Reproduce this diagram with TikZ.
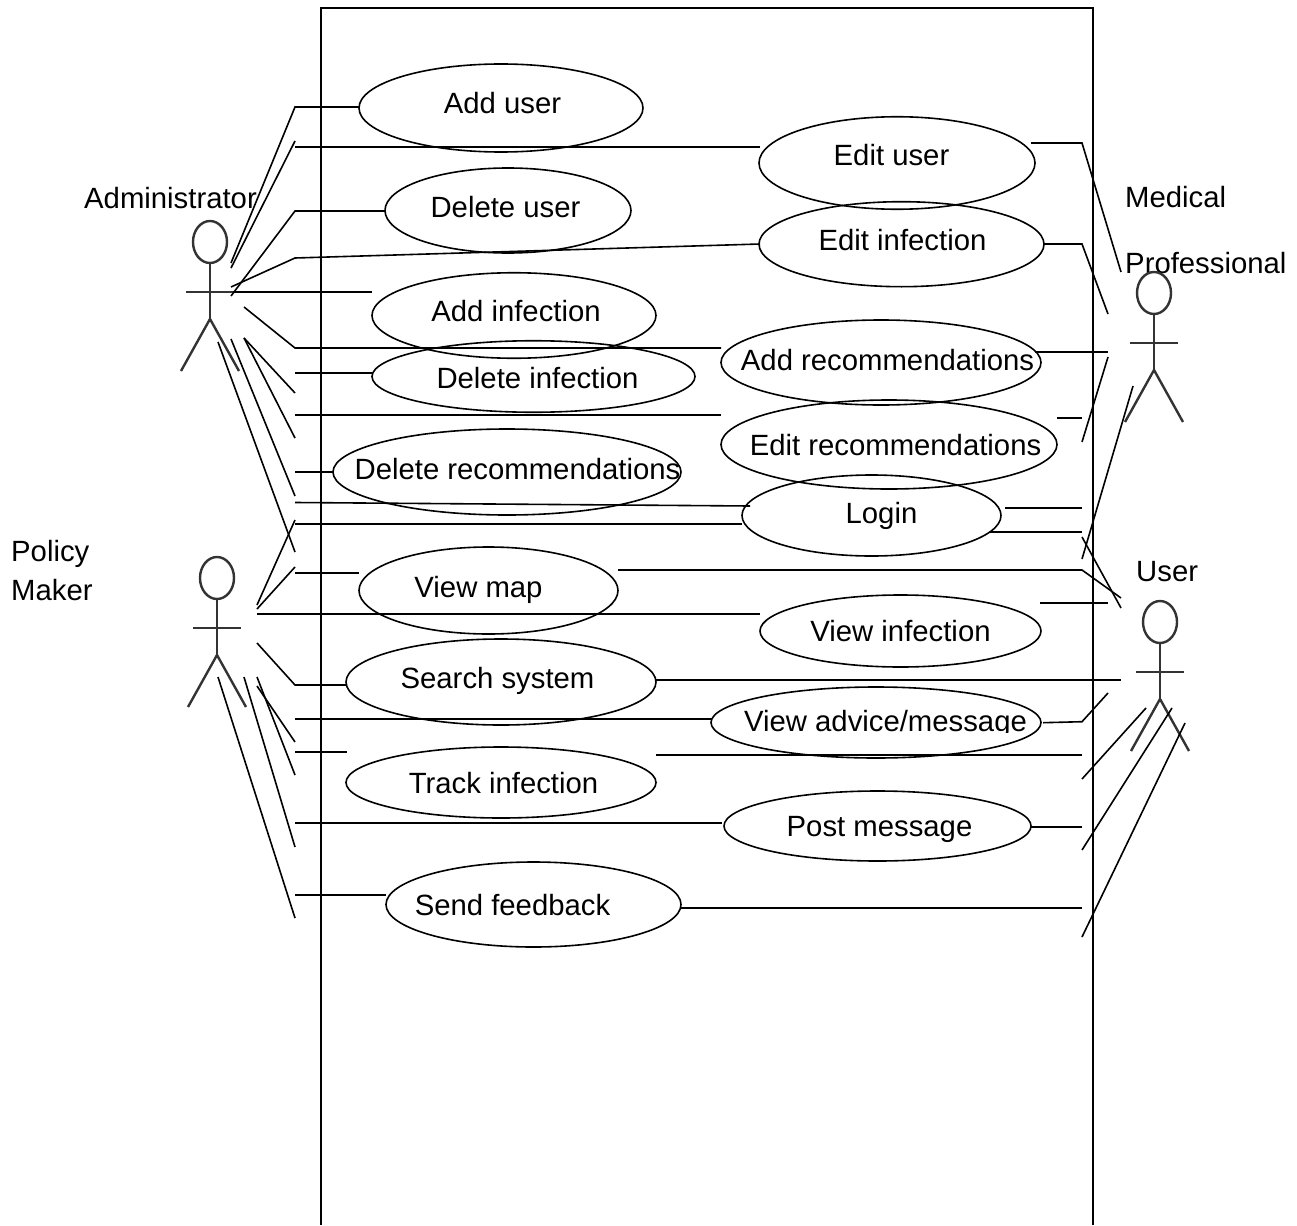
\documentclass[tikz,border=0pt]{standalone}
\usepackage{fontspec}
\setmainfont{Liberation Sans}
\usetikzlibrary{shapes.geometric}
\tikzset{
  uc/.style={draw=black,ellipse,inner sep=0pt,line width=1.6pt},
  lbl/.style={inner sep=0pt,anchor=base,font=\fontsize{29.3}{32}\selectfont},
  lbw/.style={inner sep=0pt,anchor=base west,font=\fontsize{29.3}{32}\selectfont},
  conn/.style={draw=black,line width=1.6pt,line join=miter},
  frame/.style={draw=black,line width=1.6pt},
  actorline/.style={draw=black!80,line width=2.4pt},
  actor/.pic={
    \draw[actorline] (0,0) ellipse [x radius=17,y radius=21];
    \draw[actorline] (0,21) -- (0,77);
    \draw[actorline] (-24,50) -- (24,50);
    \draw[actorline] (-29,129) -- (0,77) -- (29,129);
  }
}
\begin{document}
\begin{tikzpicture}[x=1pt,y=-1pt]
\useasboundingbox (0,0) rectangle (1297,1225);
% system boundary
\coordinate (fbl) at (321,1225); \coordinate (ftl) at (321,8);
\coordinate (ftr) at (1093,8);   \coordinate (fbr) at (1093,1225);
\draw[frame] (fbl) -- (ftl) -- (ftr) -- (fbr);
% use cases
\newcommand{\uc}[5]{\node[uc,minimum width=#3pt,minimum height=#4pt] (#1) at (#2) {};}
\uc{eAddUser}{501,108}{284}{88}{}
\uc{eEditUser}{897,163}{276}{92.5}{}
\uc{eDelUser}{508,210.5}{246}{85}{}
\uc{eEditInf}{901.5,244.2}{285}{85}{}
\uc{eAddInf}{514,315.5}{284}{85.5}{}
\uc{eAddRec}{881,362.5}{320}{85}{}
\uc{eDelInf}{533.5,376.5}{323}{71.5}{}
\uc{eEditRec}{889,444.5}{336}{89}{}
\uc{eDelRec}{507,472}{348}{86}{}
\uc{eLogin}{871.5,515.5}{259}{81}{}
\uc{eMap}{488.5,590.5}{259}{87}{}
\uc{eViewInf}{900.5,631}{281}{72}{}
\uc{eSearch}{501,682}{310}{86}{}
\uc{eAdvice}{876,722.5}{330}{71}{}
\uc{eTrack}{501,782.5}{310}{71}{}
\uc{ePost}{877.5,826}{307}{70}{}
\uc{eSend}{533.5,904.5}{295}{85}{}
% use case texts
\node[lbl] (tAddUser) at (502.5,114) {Add user};
\node[lbl] (tEditUser) at (891.5,165.5) {Edit user};
\node[lbl] (tDelUser) at (505.5,217) {Delete user};
\node[lbl] (tEditInf) at (902.5,250) {Edit infection};
\node[lbl] (tAddInf) at (516,321) {Add infection};
\node[lbl] (tAddRec) at (887.5,370) {Add recommendations};
\node[lbl] (tDelInf) at (537.5,388) {Delete infection};
\node[lbl] (tEditRec) at (895.5,455) {Edit recommendations};
\node[lbl] (tDelRec) at (517.5,479) {Delete recommendations};
\node[lbl] (tLogin) at (881.5,523) {Login};
\node[lbl] (tMap) at (478.5,597) {View map};
\node[lbl] (tViewInf) at (900.5,641) {View infection};
\node[lbl] (tSearch) at (497.5,688) {Search system};
\begin{scope}
\clip (700,700) rectangle (1060,732);
\node[lbl] (tAdvice) at (885.5,731) {View advice/message};
\end{scope}
\node[lbl] (tTrack) at (503.5,793) {Track infection};
\node[lbl] (tPost) at (879.5,836) {Post message};
\node[lbl] (tSend) at (512.5,915) {Send feedback};
% actor labels
\node[lbw] (tAdmin) at (84,208) {Administrator};
\node[lbw] (tPolicy) at (11,561) {Policy};
\node[lbw] (tMaker) at (11,600) {Maker};
\node[lbw] (tMedical) at (1125,207) {Medical};
\node[lbw] (tProf) at (1125,273) {Professional};
\node[lbw] (tUser) at (1136,581) {User};
% actors
\pic (aAdmin) at (210,242) {actor};
\pic (aPolicy) at (217,578) {actor};
\pic (aMedical) at (1154,293) {actor};
\pic (aUser) at (1160,622) {actor};
% Administrator connectors
\coordinate (a1) at (231,263); \coordinate (a1k) at (295,107); \coordinate (a1e) at (359,107);
\draw[conn] (a1) -- (a1k) -- (a1e);
\coordinate (a2) at (231,268); \coordinate (a2k) at (295,141);
\draw[conn] (a2) -- (a2k);
\coordinate (a2h) at (295,147); \coordinate (a2e) at (760,147);
\draw[conn] (a2h) -- (a2e);
\coordinate (a3) at (231,296); \coordinate (a3k) at (295,211); \coordinate (a3e) at (385,211);
\draw[conn] (a3) -- (a3k) -- (a3e);
\coordinate (a4) at (231,287); \coordinate (a4k) at (295,258); \coordinate (a4e) at (760,244);
\draw[conn] (a4) -- (a4k) -- (a4e);
\coordinate (a5) at (233,292); \coordinate (a5e) at (372,292);
\draw[conn] (a5) -- (a5e);
\coordinate (a6) at (244,307); \coordinate (a6k) at (295,348); \coordinate (a6e) at (721,348);
\draw[conn] (a6) -- (a6k) -- (a6e);
\coordinate (a7) at (244,338); \coordinate (a7k) at (295,393);
\draw[conn] (a7) -- (a7k);
\coordinate (a7h) at (295,373); \coordinate (a7e) at (372,373);
\draw[conn] (a7h) -- (a7e);
\coordinate (a8k) at (295,438);
\draw[conn] (a7) -- (a8k);
\coordinate (a8h) at (295,415); \coordinate (a8e) at (721,415);
\draw[conn] (a8h) -- (a8e);
\coordinate (a9) at (231,339); \coordinate (a9k) at (295,496);
\draw[conn] (a9) -- (a9k);
\coordinate (a9h) at (295,472); \coordinate (a9e) at (333,472);
\draw[conn] (a9h) -- (a9e);
\coordinate (a10h) at (295,502.5); \coordinate (a10e) at (750,506);
\draw[conn] (a10h) -- (a10e);
\coordinate (a11) at (218,342); \coordinate (a11k) at (295,552);
\draw[conn] (a11) -- (a11k);
% Policy Maker connectors
\coordinate (p1) at (257,605); \coordinate (p1k) at (295,520);
\draw[conn] (p1) -- (p1k);
\coordinate (p1h) at (295,524); \coordinate (p1e) at (742,524);
\draw[conn] (p1h) -- (p1e);
\coordinate (p2) at (257,609); \coordinate (p2k) at (295,567);
\draw[conn] (p2) -- (p2k);
\coordinate (p2h) at (295,573); \coordinate (p2e) at (359,573);
\draw[conn] (p2h) -- (p2e);
\coordinate (p3) at (257,614); \coordinate (p3e) at (760,614);
\draw[conn] (p3) -- (p3e);
\coordinate (p4) at (257,643); \coordinate (p4k) at (295,685); \coordinate (p4e) at (347,685);
\draw[conn] (p4) -- (p4k) -- (p4e);
\coordinate (p5) at (257,686); \coordinate (p5k) at (295,742);
\draw[conn] (p5) -- (p5k);
\coordinate (p5h) at (295,719); \coordinate (p5e) at (712,719);
\draw[conn] (p5h) -- (p5e);
\coordinate (p6) at (257,677); \coordinate (p6k) at (295,775);
\draw[conn] (p6) -- (p6k);
\coordinate (p6h) at (295,752); \coordinate (p6e) at (347,752);
\draw[conn] (p6h) -- (p6e);
\coordinate (p7) at (244,677); \coordinate (p7k) at (295,847);
\draw[conn] (p7) -- (p7k);
\coordinate (p7h) at (295,823); \coordinate (p7e) at (722,823);
\draw[conn] (p7h) -- (p7e);
\coordinate (p8) at (218,677); \coordinate (p8k) at (295,918);
\draw[conn] (p8) -- (p8k);
\coordinate (p8h) at (295,895); \coordinate (p8e) at (386,895);
\draw[conn] (p8h) -- (p8e);
% Medical Professional connectors
\coordinate (m1s) at (1031,143); \coordinate (m1k) at (1082,143); \coordinate (m1) at (1121,272);
\draw[conn] (m1s) -- (m1k) -- (m1);
\coordinate (m2s) at (1043,244); \coordinate (m2k) at (1082,244); \coordinate (m2) at (1108,314);
\draw[conn] (m2s) -- (m2k) -- (m2);
\coordinate (m3s) at (1035,352); \coordinate (m3) at (1108,352);
\draw[conn] (m3s) -- (m3);
\coordinate (m4s) at (1057,418); \coordinate (m4k) at (1082,418);
\draw[conn] (m4s) -- (m4k);
\coordinate (m5s) at (1082,442); \coordinate (m5) at (1108,357);
\draw[conn] (m5s) -- (m5);
\coordinate (m6s) at (1005,508); \coordinate (m6k) at (1082,508);
\draw[conn] (m6s) -- (m6k);
\coordinate (m7s) at (1082,559); \coordinate (m7) at (1133,386);
\draw[conn] (m7s) -- (m7);
% User connectors
\coordinate (u1s) at (990,532); \coordinate (u1k) at (1082,532);
\draw[conn] (u1s) -- (u1k);
\coordinate (u2s) at (1082,537); \coordinate (u2) at (1121,608);
\draw[conn] (u2s) -- (u2);
\coordinate (u3s) at (618,570); \coordinate (u3k) at (1082,570); \coordinate (u3) at (1121,598);
\draw[conn] (u3s) -- (u3k) -- (u3);
\coordinate (u4s) at (1040,603); \coordinate (u4) at (1108,603);
\draw[conn] (u4s) -- (u4);
\coordinate (u5s) at (655,680); \coordinate (u5) at (1121,680);
\draw[conn] (u5s) -- (u5);
\coordinate (u6s) at (1043,722.7); \coordinate (u6k) at (1082,721.7); \coordinate (u6) at (1108,693);
\draw[conn] (u6s) -- (u6k) -- (u6);
\coordinate (u7s) at (656,755); \coordinate (u7k) at (1082,755);
\draw[conn] (u7s) -- (u7k);
\coordinate (u8s) at (1082,779); \coordinate (u8) at (1146,708);
\draw[conn] (u8s) -- (u8);
\coordinate (u9s) at (1031,827); \coordinate (u9k) at (1082,827);
\draw[conn] (u9s) -- (u9k);
\coordinate (u10s) at (1082,850); \coordinate (u10) at (1172,708);
\draw[conn] (u10s) -- (u10);
\coordinate (u11s) at (681,908); \coordinate (u11k) at (1082,908);
\draw[conn] (u11s) -- (u11k);
\coordinate (u12s) at (1082,937); \coordinate (u12) at (1185,723);
\draw[conn] (u12s) -- (u12);
\end{tikzpicture}
\end{document}
